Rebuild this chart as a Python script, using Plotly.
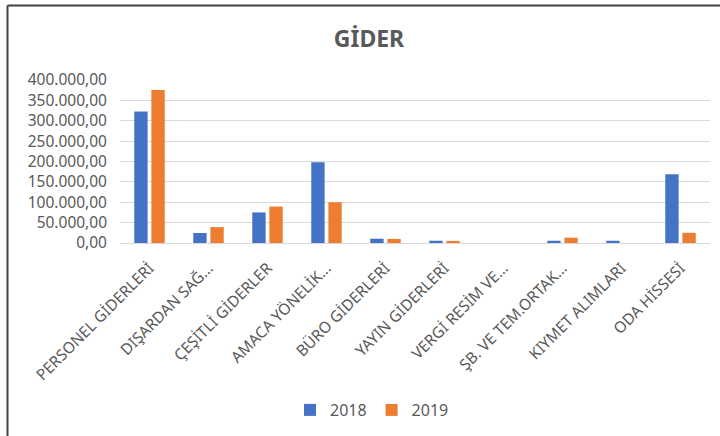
import plotly.graph_objects as go

categories = ["PERSONEL GİDERLERİ", "DIŞARDAN SAĞ…", "ÇEŞİTLİ GİDERLER", "AMACA YÖNELİK…",
              "BÜRO GİDERLERİ", "YAYIN GİDERLERİ", "VERGİ RESİM VE…", "ŞB. VE TEM.ORTAK…",
              "KIYMET ALIMLARI", "ODA HİSSESİ"]
v2018 = [323000, 24500, 75000, 198000, 10500, 5600, 0, 5500, 5500, 169000]
v2019 = [375500, 39000, 89500, 100000, 10000, 5200, 0, 13000, 0, 25000]
yticks = [0, 50000, 100000, 150000, 200000, 250000, 300000, 350000, 400000]

FONT = "Noto Sans"
GRAY = "#595959"

fig = go.Figure()
fig.add_trace(go.Bar(name="2018", x=categories, y=v2018, marker_color="#4472C4",
                     marker_line_width=0))
fig.add_trace(go.Bar(name="2019", x=categories, y=v2019, marker_color="#ED7D31",
                     marker_line_width=0))

L, R, T, B = 120, 10, 80, 193
W, H = 720, 436
pw, ph = W - L - R, H - T - B

fig.update_layout(
    width=W, height=H,
    margin=dict(l=L, r=R, t=T, b=B, autoexpand=False),
    paper_bgcolor="white", plot_bgcolor="white",
    separators=",.",
    barmode="group", bargap=0.42, bargroupgap=0.22,
    title=dict(text="<b>GİDER</b>", x=369 / W, xanchor="center", xref="container",
               y=1 - 39 / H, yanchor="middle", yref="container",
               font=dict(family=FONT, size=23, color=GRAY)),
    font=dict(family=FONT, color=GRAY),
    legend=dict(orientation="h", x=(372 - L) / pw, xanchor="center",
                y=(H - B - 410) / ph, yanchor="middle",
                font=dict(family=FONT, size=16, color=GRAY),
                itemwidth=30, traceorder="normal"),
    xaxis=dict(tickangle=-45, tickfont=dict(family=FONT, size=15.5, color=GRAY),
               showline=False, showgrid=False, ticks="", ticklabelstandoff=12,
               automargin=False),
    yaxis=dict(range=[0, 400000], tickvals=yticks, tickformat=",.2f",
               tickfont=dict(family=FONT, size=15.5, color=GRAY),
               showgrid=True, gridcolor="#d9d9d9", gridwidth=1.3,
               zeroline=True, zerolinecolor="#d9d9d9", zerolinewidth=1.3,
               showline=False, ticks="", ticklabelstandoff=12, automargin=False),
    shapes=[
        dict(type="line", xref="paper", yref="paper",
             x0=(7.5 - L) / pw, x1=(W - L) / pw,
             y0=1 + (T - 5.5) / ph, y1=1 + (T - 5.5) / ph,
             line=dict(color="#404040", width=2)),
        dict(type="line", xref="paper", yref="paper",
             x0=(7.5 - L) / pw, x1=(7.5 - L) / pw,
             y0=1 + (T - 5.5) / ph, y1=-B / ph,
             line=dict(color="#404040", width=2)),
    ],
)

fig.write_html("out.html", config={"displayModeBar": False},
               post_script="document.body.style.margin='0';")
